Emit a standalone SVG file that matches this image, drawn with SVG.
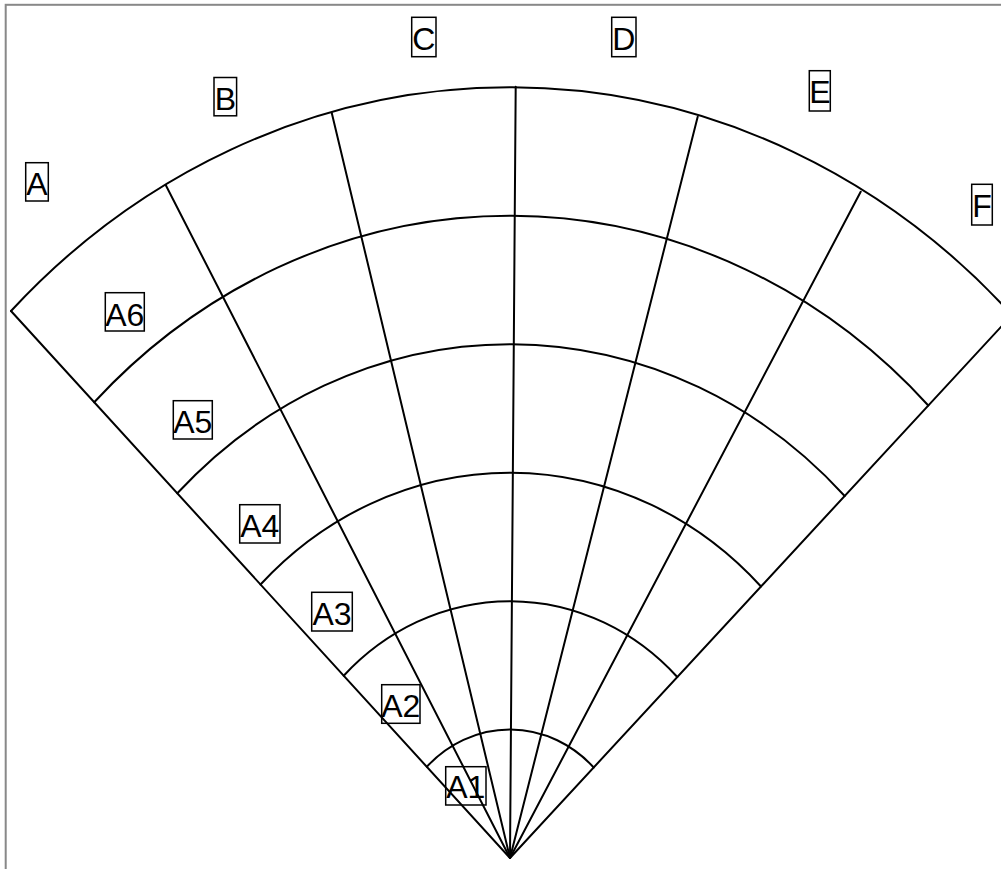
<svg xmlns="http://www.w3.org/2000/svg" width="1001" height="869" viewBox="0 0 1001 869">
<style>
.ln{fill:none;stroke:#000;stroke-width:2;stroke-linecap:round;stroke-linejoin:round}
.box{fill:none;stroke:#000;stroke-width:1.5}
.lbl{font-family:"Liberation Sans",Arial,sans-serif;font-size:32px;fill:#000;text-anchor:middle}
</style>
<rect x="0" y="0" width="1001" height="869" fill="#fff"/>
<rect x="5.7" y="4.8" width="1100" height="1000" fill="none" stroke="#888" stroke-width="2"/>
<g id="connectors">
<line class="ln" x1="510" y1="858" x2="11" y2="311"/>
<line class="ln" x1="510" y1="858" x2="165.7" y2="185"/>
<line class="ln" x1="510" y1="858" x2="331.7" y2="112.7"/>
<line class="ln" x1="510" y1="858" x2="515.7" y2="86.7"/>
<line class="ln" x1="510" y1="858" x2="697.7" y2="116.7"/>
<line class="ln" x1="510" y1="858" x2="860.7" y2="191.7"/>
<line class="ln" x1="510" y1="858" x2="1012" y2="315"/>
<path class="ln" d="M426.8 766.8 A118 128.5 0 0 1 593.7 767.5"/>
<path class="ln" d="M343.7 675.7 A236 257 0 0 1 677.3 677"/>
<path class="ln" d="M260.5 584.5 A354 385.5 0 0 1 761 586.5"/>
<path class="ln" d="M177.3 493.3 A472 514 0 0 1 844.7 496"/>
<path class="ln" d="M94.2 402.2 A590 642.5 0 0 1 928.3 405.5"/>
<path class="ln" d="M11 311 A708 771 0 0 1 1012 315"/>
</g>
<g id="node-A"><rect class="box" x="25.7" y="162.7" width="22.6" height="38.3"/><text class="lbl" x="37" y="195">A</text></g>
<g id="node-B"><rect class="box" x="214" y="77.5" width="22.6" height="38.3"/><text class="lbl" x="225.3" y="110">B</text></g>
<g id="node-C"><rect class="box" x="411.7" y="17.3" width="24.3" height="39.4"/><text class="lbl" x="423.8" y="49.5">C</text></g>
<g id="node-D"><rect class="box" x="611.7" y="17.3" width="24.3" height="39.4"/><text class="lbl" x="623.8" y="49.5">D</text></g>
<g id="node-E"><rect class="box" x="809.3" y="70.7" width="21" height="40.3"/><text class="lbl" x="819.8" y="103">E</text></g>
<g id="node-F"><rect class="box" x="971.7" y="184.3" width="20.6" height="40.7"/><text class="lbl" x="982" y="216.7">F</text></g>
<g id="node-A6"><rect class="box" x="105.3" y="292.7" width="39" height="38.3"/><text class="lbl" x="124.8" y="325.7">A6</text></g>
<g id="node-A5"><rect class="box" x="173.3" y="400.7" width="39" height="38.3"/><text class="lbl" x="192.8" y="433.3">A5</text></g>
<g id="node-A4"><rect class="box" x="239.7" y="504.7" width="40.3" height="38.3"/><text class="lbl" x="259.8" y="536.7">A4</text></g>
<g id="node-A3"><rect class="box" x="311.7" y="592.3" width="40.6" height="38.7"/><text class="lbl" x="332" y="625">A3</text></g>
<g id="node-A2"><rect class="box" x="381.7" y="684.7" width="38.3" height="38.6"/><text class="lbl" x="400.8" y="716.7">A2</text></g>
<g id="node-A1"><rect class="box" x="445.7" y="766.7" width="40.3" height="38.3"/><text class="lbl" x="465.8" y="798.3">A1</text></g>
</svg>
